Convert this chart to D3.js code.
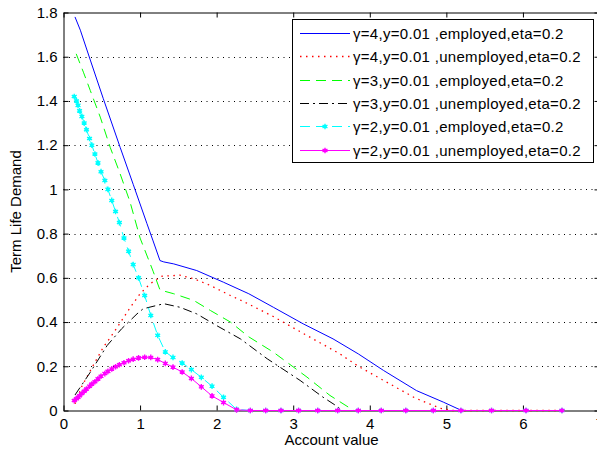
<!DOCTYPE html>
<html>
<head>
<meta charset="utf-8">
<script src="https://cdn.jsdelivr.net/npm/d3@7"></script>
<style>
  html, body { margin: 0; padding: 0; background: #fff; }
  svg { display: block; }
  text { font-family: "Liberation Sans", Arial, Helvetica, sans-serif; }
</style>
</head>
<body>
<svg id="chart" width="597" height="455"></svg>
<script>
// ---------- data ----------
const xTicks = [0, 1, 2, 3, 4, 5, 6, 7];
const xTickLabels = ["0", "1", "2", "3", "4", "5", "6", "7"];
const yTicks = [0, 0.2, 0.4, 0.6, 0.8, 1, 1.2, 1.4, 1.6, 1.8];
const yTickLabels = ["0", "0.2", "0.4", "0.6", "0.8", "1", "1.2", "1.4", "1.6", "1.8"];

const seriesNames = [
  "γ=4,y=0.01 ,employed,eta=0.2",
  "γ=4,y=0.01 ,unemployed,eta=0.2",
  "γ=3,y=0.01 ,employed,eta=0.2",
  "γ=3,y=0.01 ,unemployed,eta=0.2",
  "γ=2,y=0.01 ,employed,eta=0.2",
  "γ=2,y=0.01 ,unemployed,eta=0.2"
];

// γ=4 employed (blue)
const blueX = [0.15, 0.22, 0.35, 0.52, 0.74, 0.91, 1.0, 1.09, 1.17, 1.26, 1.31, 1.44, 1.74, 2.09, 2.42, 2.74, 3.13, 3.52, 3.85, 4.18, 4.61, 4.96, 5.2, 5.59, 6.04, 6.51];
const blueY = [1.78, 1.72, 1.585, 1.41, 1.19, 1.023, 0.934, 0.845, 0.767, 0.678, 0.672, 0.663, 0.633, 0.58, 0.528, 0.467, 0.392, 0.324, 0.256, 0.181, 0.09, 0.038, 0, 0, 0, 0];

// γ=4 unemployed (red dotted)
const redX = [0.15, 0.24, 0.39, 0.52, 0.675, 0.87, 1.0, 1.13, 1.28, 1.52, 1.70, 1.92, 2.18, 2.35, 2.74, 3.18, 3.61, 3.85, 4.18, 4.59, 4.92, 5.07, 5.59, 6.04, 6.51];
const redY = [0.03, 0.11, 0.205, 0.286, 0.362, 0.465, 0.528, 0.573, 0.607, 0.612, 0.596, 0.565, 0.52, 0.493, 0.425, 0.339, 0.256, 0.2, 0.136, 0.057, 0.01, 0, 0, 0, 0];

// γ=3 employed (green dashed)
const greenX = [0.166, 0.26, 0.35, 0.48, 0.61, 0.74, 0.87, 1.0, 1.17, 1.26, 1.44, 1.70, 1.92, 2.18, 2.42, 2.74, 3.18, 3.48, 3.79, 4.15, 4.83, 5.59, 6.51];
const greenY = [1.613, 1.53, 1.447, 1.327, 1.19, 1.07, 0.942, 0.78, 0.63, 0.545, 0.528, 0.498, 0.452, 0.40, 0.333, 0.264, 0.151, 0.068, 0, 0, 0, 0, 0];

// γ=3 unemployed (black dash-dot)
const blackX = [0.15, 0.35, 0.57, 0.76, 0.96, 1.04, 1.31, 1.52, 1.74, 2.0, 2.31, 2.66, 3.09, 3.39, 3.59, 3.62, 4.15, 4.83, 5.59, 6.51];
const blackY = [0.07, 0.173, 0.294, 0.37, 0.437, 0.46, 0.483, 0.467, 0.437, 0.384, 0.324, 0.234, 0.136, 0.06, 0.015, 0, 0, 0, 0, 0];

// shared account-value grid of the γ=2 series (markers)
const gridX = [0.14, 0.17, 0.19, 0.21, 0.24, 0.27, 0.30, 0.34, 0.37, 0.41, 0.45, 0.49, 0.54, 0.58, 0.63, 0.68, 0.73, 0.79, 0.85, 0.91, 0.98, 1.06, 1.14, 1.23, 1.33, 1.43, 1.55, 1.67, 1.80, 1.94, 2.09, 2.26, 2.44, 2.64, 2.84, 3.07, 3.32, 3.58, 3.85, 4.15, 4.47, 4.83, 5.19, 5.59, 6.04, 6.51];
// γ=2 employed (cyan dashed + markers)
const cyanY = [1.42, 1.40, 1.38, 1.355, 1.33, 1.30, 1.27, 1.23, 1.20, 1.16, 1.12, 1.08, 1.04, 1.00, 0.95, 0.90, 0.85, 0.78, 0.72, 0.66, 0.60, 0.52, 0.43, 0.34, 0.265, 0.24, 0.215, 0.185, 0.15, 0.11, 0.06, 0.005, 0, 0, 0, 0, 0, 0, 0, 0, 0, 0, 0, 0, 0, 0];
// γ=2 unemployed (magenta solid + markers)
const magentaY = [0.045, 0.053, 0.06, 0.067, 0.077, 0.087, 0.097, 0.11, 0.12, 0.13, 0.143, 0.155, 0.167, 0.177, 0.188, 0.198, 0.207, 0.216, 0.225, 0.232, 0.238, 0.241, 0.24, 0.23, 0.213, 0.196, 0.174, 0.145, 0.107, 0.066, 0.036, 0.003, 0, 0, 0, 0, 0, 0, 0, 0, 0, 0, 0, 0, 0, 0];

// ---------- layout ----------
const svg = d3.select("#chart");
const L = 63.5, R = 599.5, T = 12.5, B = 410.5;
const x = d3.scaleLinear().domain([0, 7]).range([L, R]);
const y = d3.scaleLinear().domain([0, 1.8]).range([B, T]);
const FS = "15px";

svg.append("rect").attr("width", 597).attr("height", 455).attr("fill", "#fff");

// grid (horizontal dotted)
svg.append("g").selectAll("line")
  .data(yTicks.filter(v => v > 0 && v < 1.8))
  .join("line")
  .attr("x1", L).attr("x2", R)
  .attr("y1", d => Math.round(y(d)) + 0.5).attr("y2", d => Math.round(y(d)) + 0.5)
  .attr("stroke", "#000").attr("stroke-width", 1)
  .attr("stroke-dasharray", "1,4.5");

// axes
const axB = d3.axisBottom(x).tickValues(xTicks).tickFormat((d, i) => xTickLabels[i])
  .tickSizeInner(-5).tickSizeOuter(0).tickPadding(8);
const axT = d3.axisTop(x).tickValues(xTicks).tickFormat("").tickSizeInner(-5).tickSizeOuter(0);
const axL = d3.axisLeft(y).tickValues(yTicks).tickFormat((d, i) => yTickLabels[i])
  .tickSizeInner(-5).tickSizeOuter(0).tickPadding(6);
const axR = d3.axisRight(y).tickValues(yTicks).tickFormat("").tickSizeInner(-5).tickSizeOuter(0);

function styleAxis(g) {
  g.selectAll("text").attr("font-size", FS).attr("fill", "#000")
    .attr("font-family", '"Liberation Sans", Arial, sans-serif');
  g.selectAll("path,line").attr("stroke", "#000");
}
svg.append("g").attr("transform", `translate(0,${B})`).call(axB).call(styleAxis);
svg.append("g").attr("transform", `translate(0,${T})`).call(axT).call(styleAxis);
svg.append("g").attr("transform", `translate(${L},0)`).call(axL).call(styleAxis);
svg.append("g").attr("transform", `translate(${R},0)`).call(axR).call(styleAxis);

// axis titles
svg.append("text").attr("x", (L + R) / 2).attr("y", 445)
  .attr("text-anchor", "middle").attr("font-size", FS).text("Account value");
svg.append("text").attr("transform", `translate(21,${(T + B) / 2}) rotate(-90)`)
  .attr("text-anchor", "middle").attr("font-size", FS).text("Term Life Demand");

// ---------- series ----------
const line = d3.line().x(d => x(d[0])).y(d => y(d[1]));
const zip = (xs, ys) => xs.map((v, i) => [v, ys[i]]);

const series = [
  { name: seriesNames[0], pts: zip(blueX, blueY), color: "#0000ff", dash: null, w: 1, marker: false },
  { name: seriesNames[1], pts: zip(redX, redY), color: "#ff0000", dash: "1.5,4.5", w: 1.3, marker: false },
  { name: seriesNames[2], pts: zip(greenX, greenY), color: "#00ff00", dash: "10,6", w: 1, marker: false },
  { name: seriesNames[3], pts: zip(blackX, blackY), color: "#000000", dash: "9,4,2,4", w: 1, marker: false },
  { name: seriesNames[4], pts: zip(gridX, cyanY), color: "#00ffff", dash: "10,6", w: 1, marker: true },
  { name: seriesNames[5], pts: zip(gridX, magentaY), color: "#ff00ff", dash: null, w: 1, marker: true }
];

svg.append("clipPath").attr("id", "plotclip")
  .append("rect").attr("x", L).attr("y", T - 4).attr("width", R - L).attr("height", B - T + 8);

const plot = svg.append("g").attr("clip-path", "url(#plotclip)");

function drawMarker(g, cx, cy, color) {
  g.append("circle").attr("cx", cx).attr("cy", cy).attr("r", 1.8).attr("fill", color);
  g.append("path").attr("transform", `translate(${cx},${cy})`)
    .attr("d", d3.symbol(d3.symbolAsterisk, 22)())
    .attr("fill", "none").attr("stroke", color).attr("stroke-width", 1.4);
}

series.forEach(s => {
  plot.append("path").datum(s.pts)
    .attr("d", line)
    .attr("fill", "none")
    .attr("stroke", s.color)
    .attr("stroke-width", s.w)
    .attr("stroke-dasharray", s.dash);
  if (s.marker) {
    const mg = plot.append("g");
    s.pts.forEach(p => drawMarker(mg, x(p[0]), y(p[1]), s.color));
  }
});

// ---------- legend ----------
const lg = svg.append("g");
lg.append("rect").attr("x", 292.5).attr("y", 19.5).attr("width", 301).attr("height", 143)
  .attr("fill", "#fff").attr("stroke", "#000").attr("stroke-width", 1);
const rowY = [33.5, 56.5, 80.5, 103.5, 126.5, 150.5];
series.forEach((s, i) => {
  const ry = rowY[i];
  lg.append("line").attr("x1", 300).attr("x2", 350).attr("y1", ry).attr("y2", ry)
    .attr("stroke", s.color).attr("stroke-width", s.w).attr("stroke-dasharray", s.dash);
  if (s.marker) drawMarker(lg, 325, ry, s.color);
  lg.append("text").attr("x", 353).attr("y", ry).attr("dy", "0.36em")
    .attr("font-size", FS).attr("letter-spacing", "0.3px").text(s.name);
});
</script>
</body>
</html>
